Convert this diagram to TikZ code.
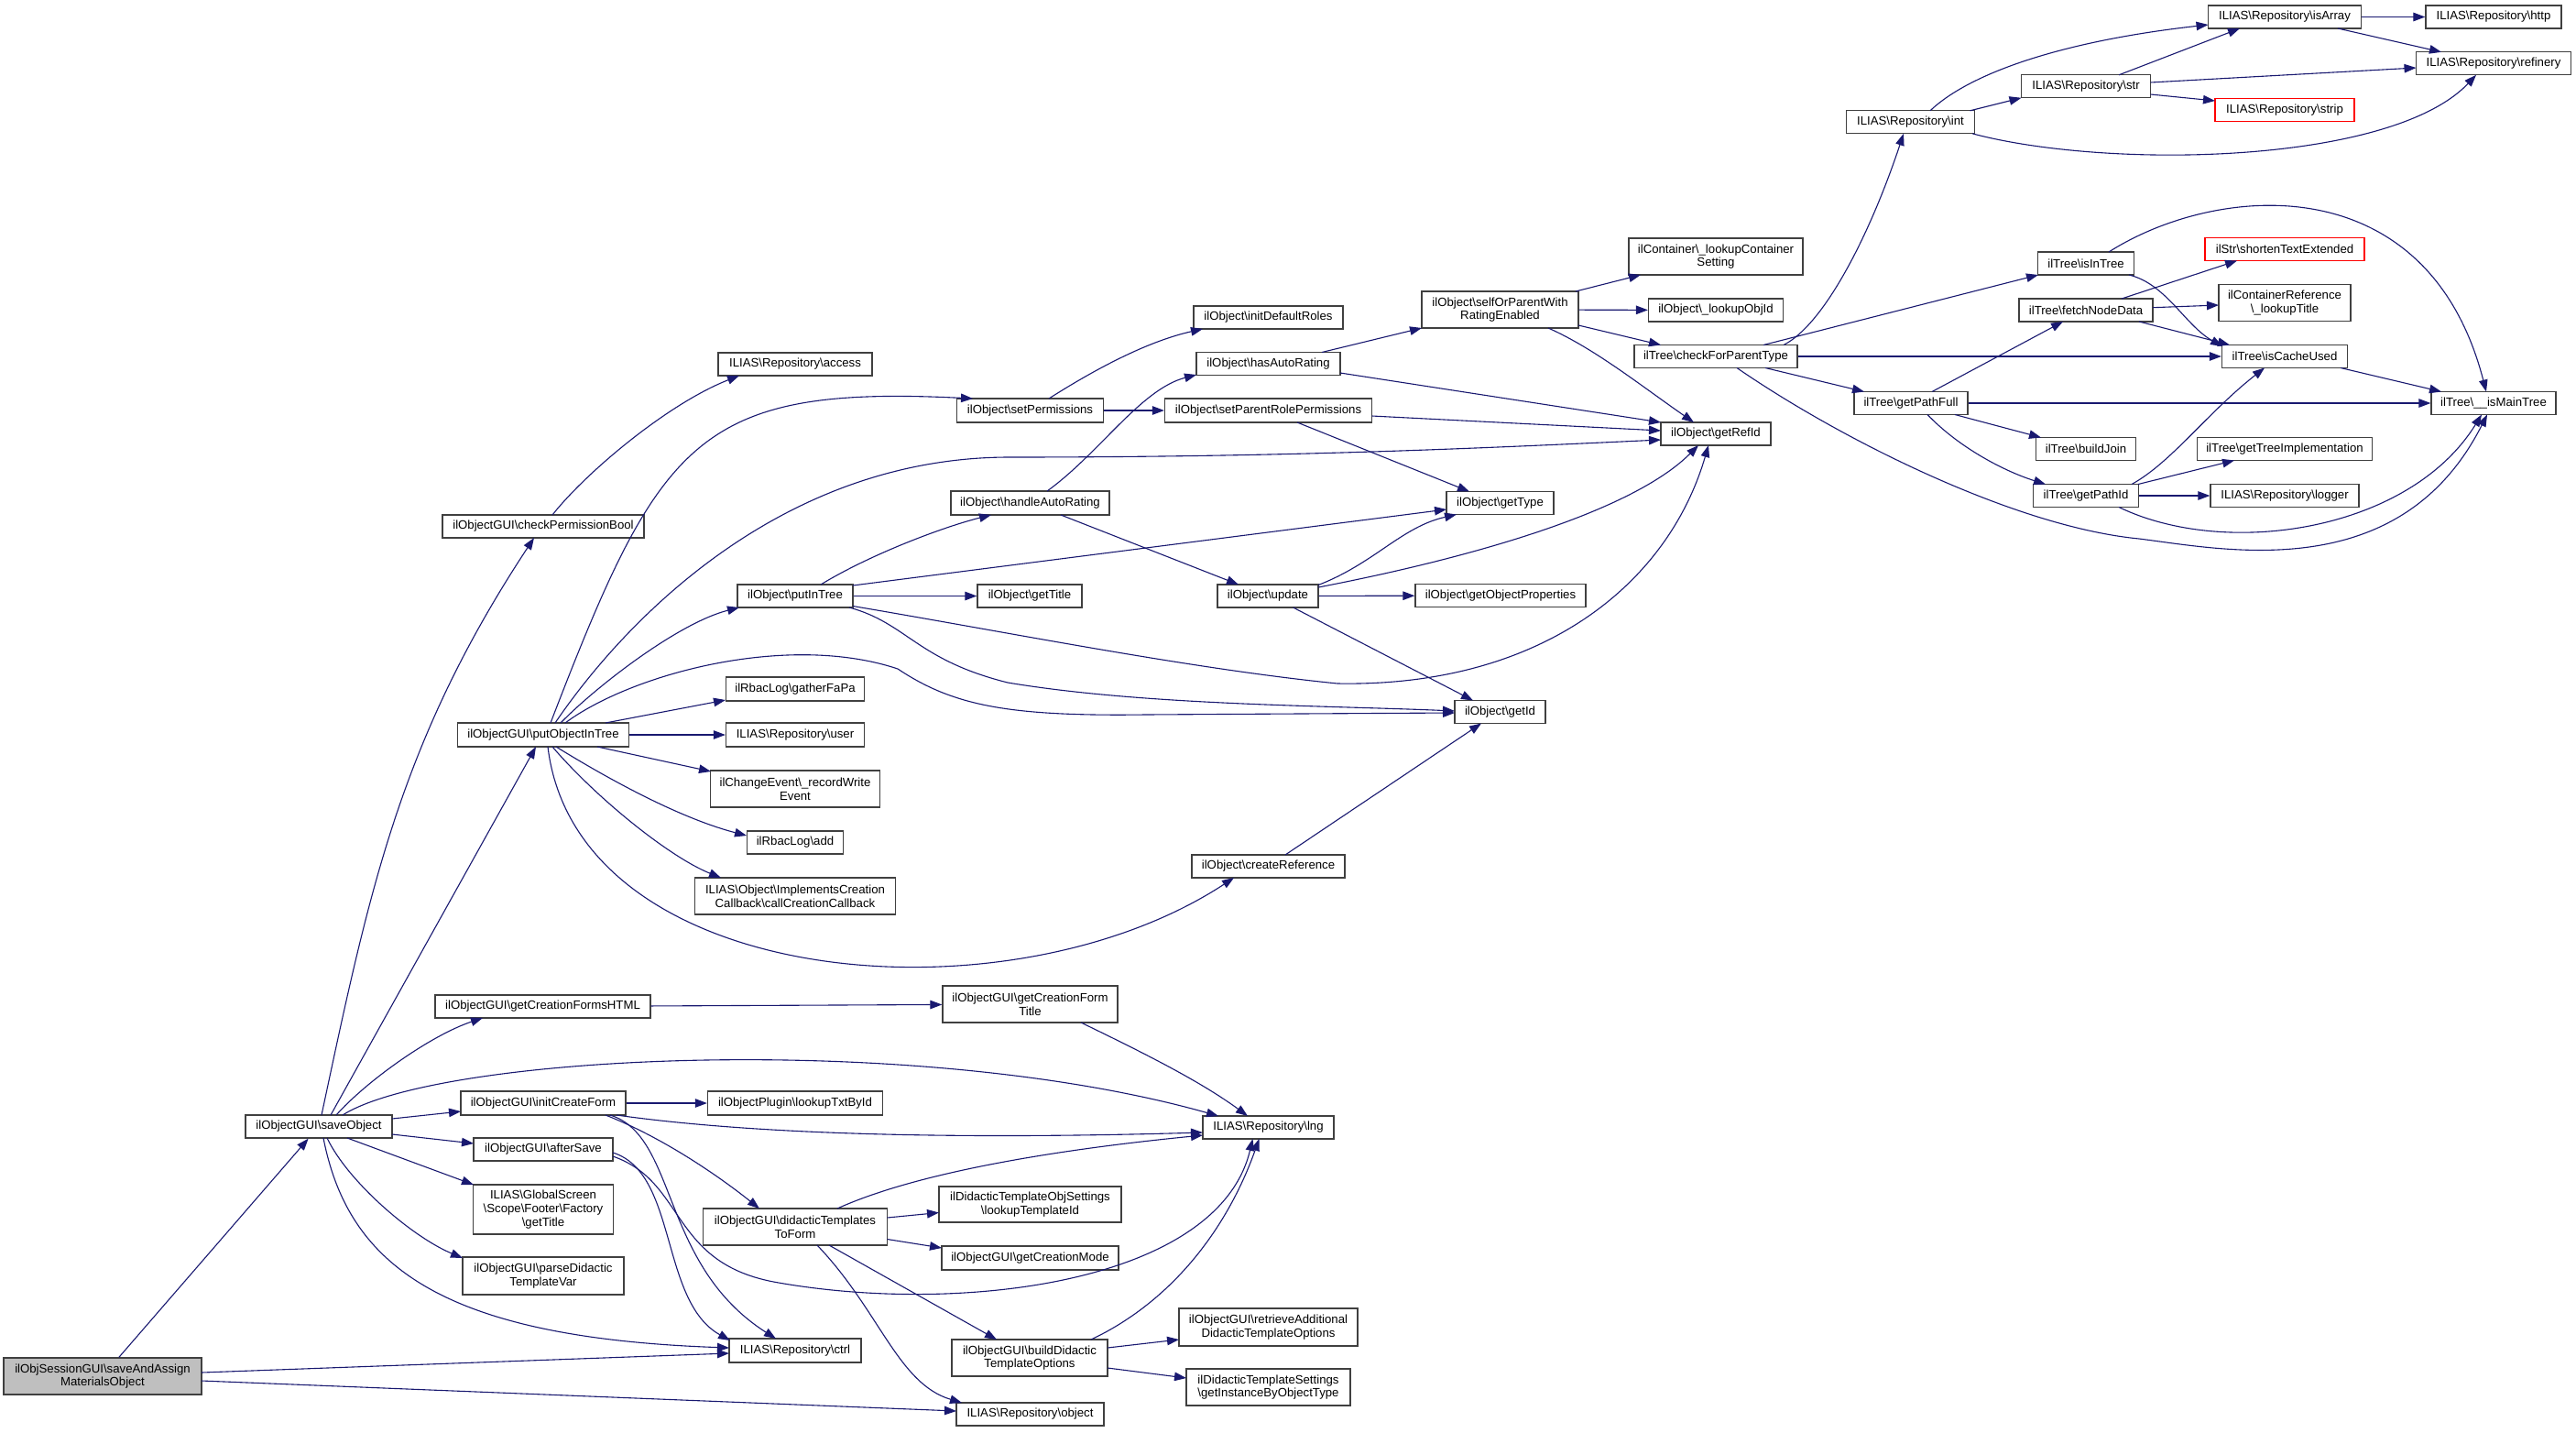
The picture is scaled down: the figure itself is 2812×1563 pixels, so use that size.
\documentclass[tikz,border=0pt]{standalone}
\usepackage{fontspec}
\setmainfont{Liberation Sans}
\usetikzlibrary{arrows.meta,calc}
\definecolor{edgeblue}{HTML}{191970}
\definecolor{boxgray}{HTML}{BFBFBF}
\definecolor{boxline}{HTML}{404040}
\newcommand{\bksl}{\textbackslash}
\begin{document}
\begin{tikzpicture}[x=1pt,y=-1pt,
  box/.style={draw=boxline, line width=1.3pt, fill=white, inner sep=0pt, align=center, font=\fontsize{13.2}{14.7}\selectfont},
  redbox/.style={box, draw=red},
  conn/.style={edgeblue, line width=1.1pt, -{Triangle[length=13pt,width=9.5pt]}},
]
\useasboundingbox (0,0) rectangle (2812,1563);

\node[box,minimum width=216pt,minimum height=40pt,fill=boxgray] (root) at (112,1502) {ilObjSessionGUI\bksl saveAndAssign\\MaterialsObject};
\node[box,minimum width=160pt,minimum height=25pt] (saveObject) at (348,1229.5) {ilObjectGUI\bksl saveObject};
\node[box,minimum width=235pt,minimum height=25pt] (gcfHTML) at (592.5,1098.5) {ilObjectGUI\bksl getCreationFormsHTML};
\node[box,minimum width=180pt,minimum height=26pt] (initCF) at (593,1204) {ilObjectGUI\bksl initCreateForm};
\node[box,minimum width=152pt,minimum height=25pt] (afterSave) at (593,1254.5) {ilObjectGUI\bksl afterSave};
\node[box,minimum width=153pt,minimum height=54pt] (gsTitle) at (593,1320) {ILIAS\bksl GlobalScreen\\\bksl Scope\bksl Footer\bksl Factory\\\bksl getTitle};
\node[box,minimum width=176pt,minimum height=41pt] (parseDid) at (593,1392.5) {ilObjectGUI\bksl parseDidactic\\TemplateVar};
\node[box,minimum width=220pt,minimum height=25pt] (checkPerm) at (593,574.5) {ilObjectGUI\bksl checkPermissionBool};
\node[box,minimum width=187pt,minimum height=26pt] (putObjInTree) at (593,802) {ilObjectGUI\bksl putObjectInTree};
\node[box,minimum width=168pt,minimum height=25pt] (access) at (868,397.5) {ILIAS\bksl Repository\bksl access};
\node[box,minimum width=126pt,minimum height=25pt] (putInTree) at (868,650.5) {ilObject\bksl putInTree};
\node[box,minimum width=151pt,minimum height=26pt] (gatherFaPa) at (868,752) {ilRbacLog\bksl gatherFaPa};
\node[box,minimum width=151pt,minimum height=26pt] (user) at (868,802) {ILIAS\bksl Repository\bksl user};
\node[box,minimum width=185pt,minimum height=40pt] (recordWrite) at (868,861) {ilChangeEvent\bksl\_recordWrite\\Event};
\node[box,minimum width=105pt,minimum height=25pt] (rbacAdd) at (868,919.5) {ilRbacLog\bksl add};
\node[box,minimum width=219pt,minimum height=40pt] (callCreation) at (868,978) {ILIAS\bksl Object\bksl ImplementsCreation\\Callback\bksl callCreationCallback};
\node[box,minimum width=191pt,minimum height=26pt] (lookupTxt) at (868,1204) {ilObjectPlugin\bksl lookupTxtById};
\node[box,minimum width=201pt,minimum height=40pt] (didToForm) at (868,1339) {ilObjectGUI\bksl didacticTemplates\\ToForm};
\node[box,minimum width=144pt,minimum height=26pt] (ctrl) at (868,1474) {ILIAS\bksl Repository\bksl ctrl};
\node[box,minimum width=160pt,minimum height=26pt] (setPerm) at (1124.5,448) {ilObject\bksl setPermissions};
\node[box,minimum width=173pt,minimum height=26pt] (handleAR) at (1124.5,549) {ilObject\bksl handleAutoRating};
\node[box,minimum width=114pt,minimum height=25pt] (getTitle) at (1124,650.5) {ilObject\bksl getTitle};
\node[box,minimum width=191pt,minimum height=40pt] (gcfTitle) at (1124.5,1096) {ilObjectGUI\bksl getCreationForm\\Title};
\node[box,minimum width=199pt,minimum height=39pt] (lookupTpl) at (1124.5,1314.5) {ilDidacticTemplateObjSettings\\\bksl lookupTemplateId};
\node[box,minimum width=193pt,minimum height=26pt] (gcMode) at (1124.5,1373) {ilObjectGUI\bksl getCreationMode};
\node[box,minimum width=170pt,minimum height=40pt] (buildDid) at (1124,1482) {ilObjectGUI\bksl buildDidactic\\TemplateOptions};
\node[box,minimum width=161pt,minimum height=25pt] (object) at (1124.5,1543.5) {ILIAS\bksl Repository\bksl object};
\node[box,minimum width=163pt,minimum height=25pt] (initRoles) at (1384.5,346.5) {ilObject\bksl initDefaultRoles};
\node[box,minimum width=157pt,minimum height=25pt] (hasAR) at (1384.5,397) {ilObject\bksl hasAutoRating};
\node[box,minimum width=226pt,minimum height=26pt] (setParent) at (1384.5,448) {ilObject\bksl setParentRolePermissions};
\node[box,minimum width=110pt,minimum height=25pt] (update) at (1384,650.5) {ilObject\bksl update};
\node[box,minimum width=167pt,minimum height=25pt] (createRef) at (1384.5,945.5) {ilObject\bksl createReference};
\node[box,minimum width=143pt,minimum height=25pt] (lng) at (1384.5,1230.5) {ILIAS\bksl Repository\bksl lng};
\node[box,minimum width=195pt,minimum height=41pt] (retrieveAdd) at (1384.5,1448.5) {ilObjectGUI\bksl retrieveAdditional\\DidacticTemplateOptions};
\node[box,minimum width=179pt,minimum height=40pt] (getInst) at (1384.5,1514) {ilDidacticTemplateSettings\\\bksl getInstanceByObjectType};
\node[box,minimum width=171pt,minimum height=40pt] (selfOr) at (1637.5,338) {ilObject\bksl selfOrParentWith\\RatingEnabled};
\node[box,minimum width=117pt,minimum height=25pt] (getType) at (1637.5,549) {ilObject\bksl getType};
\node[box,minimum width=186pt,minimum height=25pt] (getObjProps) at (1638,650) {ilObject\bksl getObjectProperties};
\node[box,minimum width=99pt,minimum height=25pt] (getId) at (1637.5,777) {ilObject\bksl getId};
\node[box,minimum width=190pt,minimum height=40pt] (lookupCont) at (1873,280) {ilContainer\bksl\_lookupContainer\\Setting};
\node[box,minimum width=147pt,minimum height=25pt] (lookupObjId) at (1873,338.5) {ilObject\bksl\_lookupObjId};
\node[box,minimum width=178pt,minimum height=25pt] (checkPT) at (1873,389) {ilTree\bksl checkForParentType};
\node[box,minimum width=120pt,minimum height=25pt] (getRefId) at (1873,473.5) {ilObject\bksl getRefId};
\node[box,minimum width=140pt,minimum height=25pt] (int) at (2085.5,133.3) {ILIAS\bksl Repository\bksl int};
\node[box,minimum width=124pt,minimum height=25pt] (getPathFull) at (2086,440) {ilTree\bksl getPathFull};
\node[box,minimum width=141pt,minimum height=25pt] (str) at (2277,94.3) {ILIAS\bksl Repository\bksl str};
\node[box,minimum width=105pt,minimum height=25pt] (isInTree) at (2277,287.5) {ilTree\bksl isInTree};
\node[box,minimum width=146pt,minimum height=25pt] (fetchND) at (2277,338.5) {ilTree\bksl fetchNodeData};
\node[box,minimum width=109pt,minimum height=25pt] (buildJoin) at (2277,490) {ilTree\bksl buildJoin};
\node[box,minimum width=115pt,minimum height=25pt] (getPathId) at (2277,541) {ilTree\bksl getPathId};
\node[box,minimum width=167pt,minimum height=25pt] (isArray) at (2494,18.5) {ILIAS\bksl Repository\bksl isArray};
\node[redbox,minimum width=152pt,minimum height=25pt] (strip) at (2494,120) {ILIAS\bksl Repository\bksl strip};
\node[redbox,minimum width=174pt,minimum height=25pt] (shorten) at (2494,272) {ilStr\bksl shortenTextExtended};
\node[box,minimum width=144pt,minimum height=40pt] (contRef) at (2494,330.5) {ilContainerReference\\\bksl\_lookupTitle};
\node[box,minimum width=137pt,minimum height=25pt] (isCache) at (2494,389) {ilTree\bksl isCacheUsed};
\node[box,minimum width=191pt,minimum height=25pt] (getTreeImpl) at (2494,490) {ilTree\bksl getTreeImplementation};
\node[box,minimum width=162pt,minimum height=25pt] (logger) at (2494,541) {ILIAS\bksl Repository\bksl logger};
\node[box,minimum width=148pt,minimum height=25pt] (http) at (2722,18.5) {ILIAS\bksl Repository\bksl http};
\node[box,minimum width=169pt,minimum height=25pt] (refinery) at (2722,69.3) {ILIAS\bksl Repository\bksl refinery};
\node[box,minimum width=136pt,minimum height=25pt] (isMain) at (2722,440) {ilTree\bksl\_\_isMainTree};

% root
\draw[conn] (root) -- (saveObject);
\draw[conn] ($(root)+(108,-4)$) -- ($(ctrl)+(-72,3)$);
\draw[conn] ($(root)+(108,5)$) -- ($(object)+(-80.5,-3.5)$);
% saveObject
\draw[conn] ($(saveObject)+(3,-12.5)$) .. controls (403,973) and (436,810) .. ($(checkPerm)+(-10,12.5)$);
\draw[conn] ($(saveObject)+(13,-12.5)$) -- ($(putObjInTree)+(-8,13)$);
\draw[conn] ($(saveObject)+(19,-12.5)$) .. controls (400,1180) and (470,1130) .. ($(gcfHTML)+(-65.5,12.5)$);
\draw[conn] ($(saveObject)+(26,-12.5)$) .. controls (480,1150) and (1000,1125) .. ($(lng)+(-54.5,-12.5)$);
\draw[conn] ($(saveObject)+(80,-8.5)$) -- ($(initCF)+(-90,9)$);
\draw[conn] ($(saveObject)+(80,8.5)$) -- ($(afterSave)+(-76,-6.5)$);
\draw[conn] ($(saveObject)+(31,12.5)$) -- ($(gsTitle)+(-76,-27)$);
\draw[conn] ($(saveObject)+(9,12.5)$) .. controls (380,1290) and (450,1350) .. ($(parseDid)+(-88,-19.5)$);
\draw[conn] ($(saveObject)+(5,12.5)$) .. controls (380,1380) and (480,1460) .. ($(ctrl)+(-72,-3)$);
% checkPermissionBool
\draw[conn] ($(checkPerm)+(10,-12.5)$) .. controls (640,515) and (730,440) .. ($(access)+(-61,12.5)$);
% putObjectInTree
\draw[conn] ($(putObjInTree)+(8,-13)$) .. controls (720,480) and (760,420) .. ($(setPerm)+(-62.5,-13)$);
\draw[conn] ($(putObjInTree)+(13,-13)$) .. controls (680,680) and (850,500) .. (1100,499) .. controls (1400,499) and (1600,490) .. ($(getRefId)+(-60,6.5)$);
\draw[conn] ($(putObjInTree)+(19,-13)$) .. controls (650,750) and (740,680) .. ($(putInTree)+(-61,12.5)$);
\draw[conn] ($(putObjInTree)+(24,-13)$) .. controls (690,735) and (860,690) .. (980,730) .. controls (1040,770) and (1100,782) .. (1250,780) -- ($(getId)+(-49.5,1)$);
\draw[conn] ($(putObjInTree)+(68,-13)$) -- ($(gatherFaPa)+(-76,12)$);
\draw[conn] (putObjInTree) -- (user);
\draw[conn] ($(putObjInTree)+(59,13)$) -- ($(recordWrite)+(-92,-19)$);
\draw[conn] ($(putObjInTree)+(14,13)$) .. controls (680,860) and (750,895) .. ($(rbacAdd)+(-53,-7.5)$);
\draw[conn] ($(putObjInTree)+(10,13)$) .. controls (650,870) and (730,935) .. ($(callCreation)+(-81,-20)$);
\draw[conn] ($(putObjInTree)+(5,13)$) .. controls (630,1080) and (1100,1120) .. ($(createRef)+(-37.5,12.5)$);
% putInTree
\draw[conn] ($(putInTree)+(28,-12.5)$) .. controls (950,605) and (1030,575) .. ($(handleAR)+(-42.5,13)$);
\draw[conn] ($(putInTree)+(63,-11.5)$) -- ($(getType)+(-58.5,7)$);
\draw[conn] (putInTree) -- (getTitle);
\draw[conn] ($(putInTree)+(59,12.5)$) .. controls (990,680) and (1000,720) .. (1100,745) .. controls (1250,770) and (1450,770) .. ($(getId)+(-49.5,-1)$);
\draw[conn] ($(putInTree)+(63,11)$) .. controls (1100,690) and (1300,730) .. (1460,746) .. controls (1680,750) and (1820,640) .. ($(getRefId)+(-8,12.5)$);
% handleAutoRating, setPermissions
\draw[conn] ($(handleAR)+(18.5,-13)$) .. controls (1200,495) and (1245,425) .. ($(hasAR)+(-78.5,12)$);
\draw[conn] ($(handleAR)+(33.5,13)$) -- ($(update)+(-32,-12.5)$);
\draw[conn] ($(setPerm)+(20.5,-13)$) .. controls (1200,400) and (1255,372) .. ($(initRoles)+(-71.5,12.5)$);
\draw[conn] (setPerm) -- (setParent);
% hasAutoRating, setParentRolePermissions
\draw[conn] ($(hasAR)+(58.5,-12.5)$) -- ($(selfOr)+(-85.5,20)$);
\draw[conn] ($(hasAR)+(78.5,10)$) -- ($(getRefId)+(-60,-12.5)$);
\draw[conn] ($(setParent)+(113,6)$) -- ($(getRefId)+(-60,-3.5)$);
\draw[conn] ($(setParent)+(31.5,13)$) -- ($(getType)+(-33.5,-12.5)$);
% selfOrParentWithRatingEnabled
\draw[conn] ($(selfOr)+(82.5,-20)$) -- ($(lookupCont)+(-82,20)$);
\draw[conn] (selfOr) -- (lookupObjId);
\draw[conn] ($(selfOr)+(85.5,17)$) -- ($(checkPT)+(-60,-12.5)$);
\draw[conn] ($(selfOr)+(52.5,20)$) .. controls (1740,380) and (1790,420) .. ($(getRefId)+(-24,-12.5)$);
% update, createReference
\draw[conn] ($(update)+(55,-12)$) .. controls (1500,615) and (1530,575) .. ($(getType)+(-47.5,12.5)$);
\draw[conn] ($(update)+(55,-9.5)$) .. controls (1600,610) and (1780,560) .. ($(getRefId)+(-19,12.5)$);
\draw[conn] (update) -- (getObjProps);
\draw[conn] ($(update)+(27.6,12.5)$) -- ($(getId)+(-29.5,-12.5)$);
\draw[conn] ($(createRef)+(18.5,-12.5)$) -- ($(getId)+(-20.5,12.5)$);
% checkForParentType
\draw[conn] ($(checkPT)+(74,-12.5)$) .. controls (1990,355) and (2040,260) .. ($(int)+(-7.5,12.5)$);
\draw[conn] ($(checkPT)+(52,-12.5)$) -- ($(isInTree)+(-52,12.5)$);
\draw[conn] (checkPT) -- (isCache);
\draw[conn] ($(checkPT)+(54,12.5)$) -- ($(getPathFull)+(-51,-12.5)$);
\draw[conn] ($(checkPT)+(23,12.5)$) .. controls (2010,480) and (2200,575) .. (2335,588) .. controls (2430,600) and (2620,640) .. ($(isMain)+(-7,12.5)$);
% ilTree
\draw[conn] ($(isInTree)+(25,-12.5)$) .. controls (2420,200) and (2650,180) .. ($(isMain)+(-8,-12.5)$);
\draw[conn] ($(isInTree)+(47,12.5)$) .. controls (2365,310) and (2385,355) .. ($(isCache)+(-68,-11)$);
\draw[conn] ($(fetchND)+(39,-12.5)$) -- ($(shorten)+(-52,12.5)$);
\draw[conn] ($(fetchND)+(73,-2.8)$) -- ($(contRef)+(-72,2.5)$);
\draw[conn] ($(fetchND)+(58,12.5)$) -- ($(isCache)+(-60,-12.5)$);
\draw[conn] ($(isCache)+(61,12.5)$) -- ($(isMain)+(-57,-12.5)$);
\draw[conn] ($(getPathFull)+(23,-12.5)$) -- ($(fetchND)+(-25,12.5)$);
\draw[conn] (getPathFull) -- (isMain);
\draw[conn] ($(getPathFull)+(48,12.5)$) -- ($(buildJoin)+(-49,-12.5)$);
\draw[conn] ($(getPathFull)+(18,12.5)$) .. controls (2140,490) and (2190,515) .. ($(getPathId)+(-44,-12.5)$);
\draw[conn] ($(getPathId)+(50,-12.5)$) .. controls (2370,505) and (2410,450) .. ($(isCache)+(-22,12.5)$);
\draw[conn] ($(getPathId)+(57,-12.5)$) -- ($(getTreeImpl)+(-55,12.5)$);
\draw[conn] (getPathId) -- (logger);
\draw[conn] ($(getPathId)+(36,12.5)$) .. controls (2430,610) and (2630,580) .. ($(isMain)+(-13,12.5)$);
% Repository int / str / isArray
\draw[conn] ($(int)+(21.5,-12.5)$) .. controls (2150,80) and (2250,45) .. ($(isArray)+(-83.5,8.5)$);
\draw[conn] ($(int)+(65,-12.5)$) -- ($(str)+(-70.5,12.5)$);
\draw[conn] ($(int)+(67.5,12.5)$) .. controls (2300,185) and (2610,180) .. ($(refinery)+(-19,12.5)$);
\draw[conn] ($(str)+(36,-12.5)$) -- ($(isArray)+(-49,12.5)$);
\draw[conn] ($(str)+(70.5,-4.3)$) -- ($(refinery)+(-84.5,4.7)$);
\draw[conn] ($(str)+(70.5,8.7)$) -- ($(strip)+(-76,-10)$);
\draw[conn] (isArray) -- (http);
\draw[conn] ($(isArray)+(58,12.5)$) -- ($(refinery)+(-57,-12.5)$);
% lower part
\draw[conn] (initCF) -- (lookupTxt);
\draw[conn] ($(initCF)+(80,13)$) .. controls (800,1235) and (1000,1245) .. ($(lng)+(-71.5,5.5)$);
\draw[conn] ($(initCF)+(68,13)$) .. controls (720,1240) and (780,1280) .. ($(didToForm)+(-39,-20)$);
\draw[conn] ($(initCF)+(73,13)$) .. controls (740,1240) and (720,1380) .. ($(ctrl)+(-21,-13)$);
\draw[conn] ($(afterSave)+(76,3.5)$) .. controls (740,1280) and (720,1420) .. ($(ctrl)+(-71,-11)$);
\draw[conn] ($(afterSave)+(76,7.5)$) .. controls (750,1290) and (730,1380) .. (850,1400) .. controls (1050,1435) and (1330,1400) .. ($(lng)+(-17,12.5)$);
\draw[conn] ($(didToForm)+(46,-20)$) .. controls (1000,1280) and (1150,1255) .. ($(lng)+(-71.5,8.5)$);
\draw[conn] ($(didToForm)+(100.5,-10)$) -- ($(lookupTpl)+(-99.5,9)$);
\draw[conn] ($(didToForm)+(100.5,13.5)$) -- ($(gcMode)+(-96.5,-11)$);
\draw[conn] ($(didToForm)+(37,20)$) -- ($(buildDid)+(-36,-20)$);
\draw[conn] ($(didToForm)+(24,20)$) .. controls (960,1430) and (980,1510) .. ($(object)+(-74.5,-12.5)$);
\draw[conn] ($(buildDid)+(67,-20)$) .. controls (1280,1420) and (1340,1340) .. ($(lng)+(-10,12.5)$);
\draw[conn] ($(buildDid)+(85,-11)$) -- ($(retrieveAdd)+(-97.5,13.5)$);
\draw[conn] ($(buildDid)+(85,11)$) -- ($(getInst)+(-89.5,-10)$);
\draw[conn] (gcfHTML) -- (gcfTitle);
\draw[conn] ($(gcfTitle)+(55.5,20)$) .. controls (1250,1150) and (1310,1180) .. ($(lng)+(-22.5,-12.5)$);
\end{tikzpicture}
\end{document}
